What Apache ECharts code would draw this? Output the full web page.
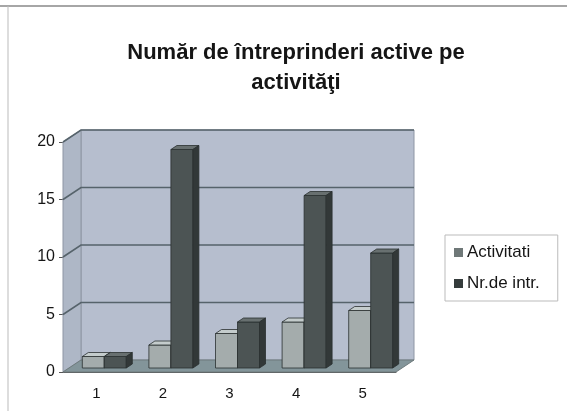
<!DOCTYPE html>
<html><head><meta charset="utf-8">
<script src="https://cdn.jsdelivr.net/npm/echarts@6/dist/echarts.min.js"></script>
<style>html,body{margin:0;padding:0;background:#fff}#c{width:567px;height:411px}</style>
</head><body><div id="c"></div>
<script>
const categories = ['1','2','3','4','5'];
const activitati = [1, 2, 3, 4, 5];
const nrIntr = [1, 19, 4, 15, 10];
const yTicks = [0, 5, 10, 15, 20];
const titleText = 'Număr de întreprinderi active pe\nactivităţi';

const DX = 18, DY = 12;      // wall depth
const BX = 8, BY = 4;        // bar placement depth
const DD = 6, DD2 = 4;       // bar own depth
const BW = 22;

function wallItem(params, api) {
  const cs = params.coordSys;
  const x0 = cs.x, x1 = cs.x + cs.width, yT = cs.y, yB = cs.y + cs.height;
  const ch = [];
  ch.push({type:'polygon', shape:{points:[[x0+DX,yT-DY],[x1+DX,yT-DY],[x1+DX,yB-DY],[x0+DX,yB-DY]]}, style:{fill:'#b6bece', stroke:'#8e96a4', lineWidth:1}});
  ch.push({type:'polygon', shape:{points:[[x0,yT],[x0+DX,yT-DY],[x0+DX,yB-DY],[x0,yB]]}, style:{fill:'#aeb7c6', stroke:'#8e96a4', lineWidth:1}});
  ch.push({type:'polygon', shape:{points:[[x0,yB],[x0+DX,yB-DY],[x1+DX,yB-DY],[x1,yB]]}, style:{fill:'#83959a', stroke:'#6e7a7c', lineWidth:1}});
  yTicks.forEach(v => {
    if (v === 0) return;
    const y = api.coord([0, v])[1];
    ch.push({type:'polyline', shape:{points:[[x0,y],[x0+DX,y-DY],[x1+DX,y-DY]]}, style:{stroke:'#56636b', lineWidth:1.6, fill:null}});
  });
  return {type:'group', children: ch};
}

function makeBar(offset, front, top, side) {
  return function(params, api) {
    const idx = api.value(0), val = api.value(1);
    const c = api.coord([idx, val]);
    const b = api.coord([idx, 0]);
    const x = c[0] + offset + BX;
    const yt = c[1] - BY, yb = b[1] - BY;
    return {type:'group', children:[
      {type:'rect', shape:{x:x, y:yt, width:BW, height:yb-yt}, style:{fill:front, stroke:'#2a3030', lineWidth:0.8}},
      {type:'polygon', shape:{points:[[x,yt],[x+DD,yt-DD2],[x+BW+DD,yt-DD2],[x+BW,yt]]}, style:{fill:top, stroke:'#2a3030', lineWidth:0.8}},
      {type:'polygon', shape:{points:[[x+BW,yt],[x+BW+DD,yt-DD2],[x+BW+DD,yb-DD2],[x+BW,yb]]}, style:{fill:side, stroke:'#2a3030', lineWidth:0.8}}
    ]};
  };
}

const chart = echarts.init(document.getElementById('c'), null, {renderer:'canvas'});
chart.setOption({
  animation: false,
  backgroundColor: '#ffffff',
  title: {
    text: titleText, left: 291, top: 33, textAlign: 'center',
    textStyle: {fontFamily:'Liberation Sans', fontWeight:'bold', fontSize:22, color:'#151515', lineHeight:30}
  },
  legend: {
    orient:'vertical', left: 445, top: 235, itemWidth: 9, itemHeight: 9, itemGap: 14,
    borderColor:'#bbbbbb', borderWidth:1, padding:[9,18,9,9], icon:'rect',
    textStyle:{fontFamily:'Liberation Sans', fontSize:17, color:'#151515', padding:[0,0,0,-1]},
    data:['Activitati','Nr.de intr.']
  },
  grid: {left: 63, right: 171, top: 142, bottom: 39},
  xAxis: {
    type:'category', data: categories,
    axisLine:{show:true, lineStyle:{color:'#555', width:1}},
    axisTick:{show:false},
    axisLabel:{fontFamily:'Liberation Sans', fontSize:15, color:'#151515', margin:14},
    splitLine:{show:false}
  },
  yAxis: {
    type:'value', min:0, max:20, interval:5,
    axisLine:{show:true, lineStyle:{color:'#555', width:1}},
    axisTick:{show:true, length:4, lineStyle:{color:'#555'}},
    axisLabel:{fontFamily:'Liberation Sans', fontSize:16, color:'#151515', margin:8},
    splitLine:{show:false}
  },
  graphic: [
    {type:'line', shape:{x1:0,y1:6,x2:567,y2:6}, style:{stroke:'#888', lineWidth:1.5}},
    {type:'line', shape:{x1:8,y1:6,x2:8,y2:411}, style:{stroke:'#bbb', lineWidth:1}}
  ],
  series: [
    {type:'custom', name:'wall', z:1, silent:true, data:[[0,0]], renderItem: wallItem, legendHoverLink:false},
    {type:'custom', name:'Activitati', z:3, data: activitati.map((v,i)=>[i,v]),
      itemStyle:{color:'#6f7878'}, renderItem: makeBar(-BW, '#a4acac', '#c4cccc', '#7d8686'), encode:{x:0,y:1}},
    {type:'custom', name:'Nr.de intr.', z:3, data: nrIntr.map((v,i)=>[i,v]),
      itemStyle:{color:'#353c3c'}, renderItem: makeBar(0, '#4c5454', '#687070', '#323838'), encode:{x:0,y:1}}
  ]
});
</script></body></html>
